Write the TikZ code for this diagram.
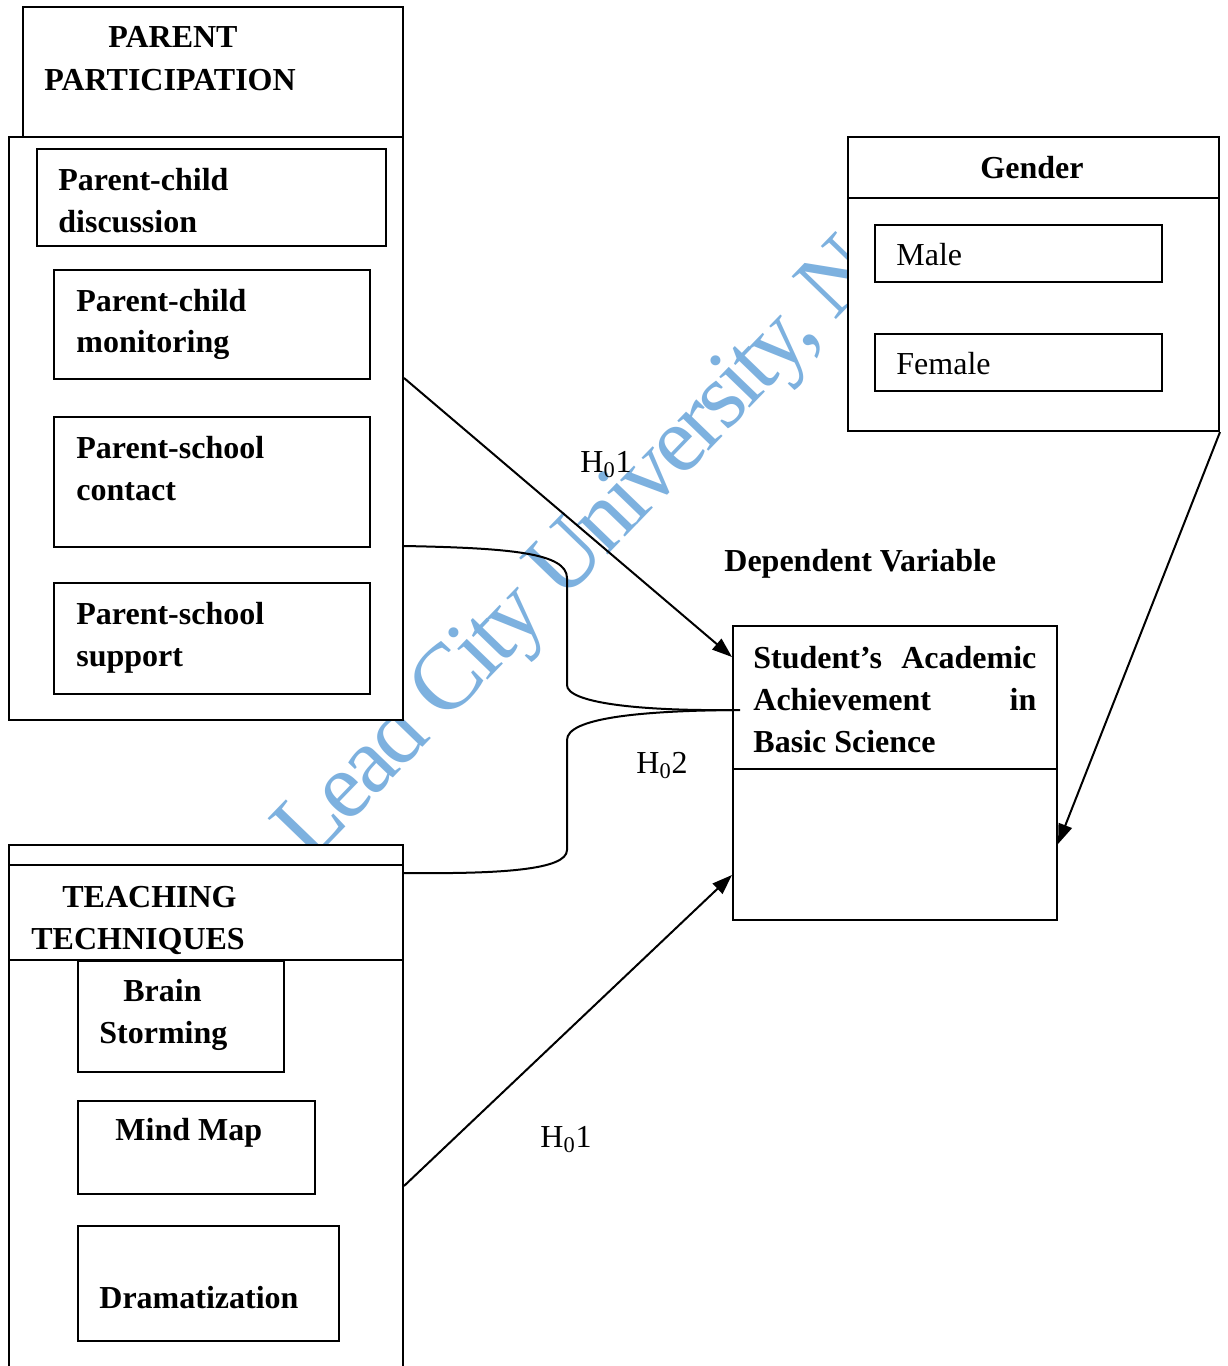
\documentclass[tikz,border=0pt]{standalone}
\usepackage{fontspec}
\setmainfont{Liberation Serif}
\newfontfamily\wmfont[LetterSpace=-4.5]{Liberation Serif}
\usetikzlibrary{arrows.meta,fit,calc}
\definecolor{wmblue}{RGB}{125,177,223}
\begin{document}
\begin{tikzpicture}[x=0.5pt,y=-0.5pt,
  box/.style={draw,fill=white,line width=1pt,inner sep=0pt},
  lbl/.style={anchor=base west,inner sep=0pt,font=\fontsize{16}{21}\selectfont\bfseries},
  rlbl/.style={anchor=base west,inner sep=0pt,font=\fontsize{16}{21}\selectfont},
  conn/.style={line width=1pt},
  arr/.style={conn,-{Triangle[length=10pt,width=7pt]}}]
\useasboundingbox[fill=white] (0,0) rectangle (1227,1366);

% watermark
\node[anchor=base west,rotate=46,text=wmblue,inner sep=0pt,
      font=\wmfont\fontsize{47}{47}\selectfont] (wm) at (310,864) {Lead City University, N};

% parent participation
\node[box,fit={(23,7)(403,137)}] (pphead) {};
\node[box,fit={(9,137)(403,720)}] (ppo) {};
\node[box,fit={(37,149)(386,246)}] (pcd) {};
\node[box,fit={(54,270)(370,379)}] (pcm) {};
\node[box,fit={(54,417)(370,547)}] (psc) {};
\node[box,fit={(54,583)(370,694)}] (pss) {};

\node[lbl] (t1a) at (108,47) {PARENT};
\node[lbl] (t1b) at (44,90) {PARTICIPATION};
\node[lbl] (t2a) at (58,190) {Parent-child};
\node[lbl] (t2b) at (58,232) {discussion};
\node[lbl] (t3a) at (76,311) {Parent-child};
\node[lbl] (t3b) at (76,352) {monitoring};
\node[lbl] (t4a) at (76,458) {Parent-school};
\node[lbl] (t4b) at (76,500) {contact};
\node[lbl] (t5a) at (76,624) {Parent-school};
\node[lbl] (t5b) at (76,666) {support};

% gender
\node[box,fit={(848,137)(1219,431)}] (gen) {};
\draw[conn] ($(gen.north west)+(0,62)$) -- ($(gen.north east)+(0,62)$);
\node[lbl,anchor=base] (tg) at (1032,178) {Gender};
\node[box,fit={(875,225)(1162,282)}] (male) {};
\node[box,fit={(875,334)(1162,391)}] (female) {};
\node[rlbl] (tm) at (896,265) {Male};
\node[rlbl] (tf) at (896,374) {Female};

% dependent variable
\node[lbl] (tdv) at (724,571) {Dependent Variable};
\node[box,fit={(733,626)(1057,920)}] (stu) {};
\draw[conn] ($(stu.north west)+(0,144)$) -- ($(stu.north east)+(0,144)$);
\node[lbl] (ts1) at (753,668) {\makebox[141.5pt][s]{Student’s Academic}};
\node[lbl] (ts2) at (753,710) {\makebox[141.5pt][s]{Achievement in}};
\node[lbl] (ts3) at (753,752) {Basic Science};

% teaching techniques
\node[box,fit={(9,845)(403,1374)}] (teach) {};
\draw[conn] ($(teach.north west)+(0,21)$) -- ($(teach.north east)+(0,21)$);
\draw[conn] ($(teach.north west)+(0,116)$) -- ($(teach.north east)+(0,116)$);
\node[lbl] (t6a) at (62,907) {TEACHING};
\node[lbl] (t6b) at (31,949) {TECHNIQUES};
\node[box,fit={(78,961)(284,1072)}] (brain) {};
\node[box,fit={(78,1101)(315,1194)}] (mind) {};
\node[box,fit={(78,1226)(339,1341)}] (drama) {};
\node[lbl] (t7a) at (123,1001) {Brain};
\node[lbl] (t7b) at (99,1043) {Storming};
\node[lbl] (t8) at (115,1140) {Mind Map};
\node[lbl] (t9) at (99,1308) {Dramatization};

% hypothesis labels
\node[rlbl] (h1) at (580,472) {H\textsubscript{0}1};
\node[rlbl] (h2) at (636,773) {H\textsubscript{0}2};
\node[rlbl] (h3) at (540,1147) {H\textsubscript{0}1};

% connectors
\coordinate (a1s) at ($(ppo.north east)+(0,242)$);
\coordinate (a1e) at ($(stu.north west)+(0,32)$);
\coordinate (a2s) at ($(teach.north east)+(0,342)$);
\coordinate (a2e) at ($(stu.north west)+(0,250)$);
\coordinate (a3e) at ($(stu.north east)+(0,219)$);
\coordinate (c1s) at ($(ppo.north east)+(0,410)$);
\coordinate (c2s) at ($(teach.north east)+(0,29)$);
\coordinate (jn) at ($(stu.north west)+(0,85)$);
\coordinate (jx) at ($(stu.north west)+(8,85)$);

\draw[arr] (a1s) -- (a1e);
\draw[arr] (a2s) -- (a2e);
\draw[arr] (gen.south east) -- (a3e);
\draw[conn] (c1s) .. controls (510,548) and (567,553) .. (567,578)
  -- (567,685) .. controls (567,703) and (640,711) .. (jn) -- (jx);
\draw[conn] (jn) .. controls (640,711) and (567,718) .. (567,740)
  -- (567,850) .. controls (567,870) and (500,874) .. (c2s);
\end{tikzpicture}
\end{document}
